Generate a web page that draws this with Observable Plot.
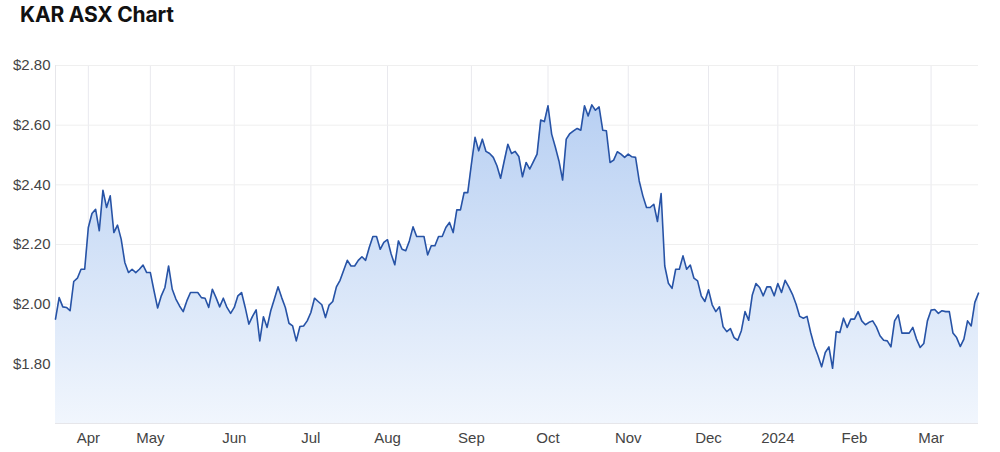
<!DOCTYPE html>
<html>
<head>
<meta charset="utf-8">
<script src="https://cdn.jsdelivr.net/npm/d3@7"></script>
<script src="https://cdn.jsdelivr.net/npm/@observablehq/plot@0.6"></script>
<style>
  html, body { margin: 0; padding: 0; background: #fff; }
  body { width: 1000px; height: 452px; overflow: hidden; position: relative; }
  #title { position: absolute; left: 20px; top: 2px; font: 700 21px Inter, "Liberation Sans", Arial, sans-serif; color: #111; letter-spacing: -0.2px; }
  #chart { position: absolute; left: 0; top: 40px; }
</style>
</head>
<body>
<div id="title">KAR ASX Chart</div>
<div id="chart"></div>
<script>
// Daily closing prices (A$), one per ASX trading day, 21 Mar 2023 – 20 Mar 2024
const closes = [
  1.950, 2.022, 1.991, 1.989, 1.978, 2.076, 2.087, 2.117, 2.117, 2.257,
  2.304, 2.318, 2.246, 2.382, 2.324, 2.363, 2.240, 2.265, 2.218, 2.140,
  2.106, 2.117, 2.106, 2.117, 2.131, 2.106, 2.106, 2.045, 1.987, 2.028,
  2.056, 2.128, 2.050, 2.017, 1.994, 1.975, 2.011, 2.039, 2.039, 2.039,
  2.022, 2.020, 1.989, 2.050, 2.022, 1.991, 2.020, 1.989, 1.969, 1.989,
  2.028, 2.039, 1.989, 1.933, 1.959, 1.981, 1.877, 1.958, 1.922, 1.978,
  2.017, 2.058, 2.022, 1.989, 1.936, 1.927, 1.877, 1.925, 1.927, 1.944,
  1.972, 2.020, 2.009, 1.998, 1.955, 1.997, 2.009, 2.058, 2.080, 2.114,
  2.147, 2.128, 2.128, 2.147, 2.159, 2.147, 2.190, 2.227, 2.227, 2.184,
  2.207, 2.216, 2.168, 2.132, 2.212, 2.184, 2.179, 2.212, 2.259, 2.227,
  2.227, 2.227, 2.165, 2.196, 2.196, 2.227, 2.227, 2.257, 2.274, 2.240,
  2.316, 2.316, 2.374, 2.374, 2.469, 2.559, 2.514, 2.553, 2.512, 2.505,
  2.492, 2.464, 2.422, 2.480, 2.536, 2.505, 2.512, 2.495, 2.427, 2.475,
  2.453, 2.478, 2.503, 2.617, 2.612, 2.665, 2.570, 2.527, 2.480, 2.416,
  2.553, 2.572, 2.581, 2.589, 2.583, 2.665, 2.631, 2.668, 2.650, 2.661,
  2.583, 2.581, 2.475, 2.483, 2.511, 2.503, 2.492, 2.503, 2.494, 2.492,
  2.413, 2.363, 2.324, 2.324, 2.335, 2.277, 2.371, 2.128, 2.070, 2.053,
  2.117, 2.117, 2.162, 2.117, 2.131, 2.087, 2.078, 2.028, 2.009, 2.048,
  1.998, 1.975, 1.991, 1.924, 1.908, 1.918, 1.888, 1.879, 1.911, 1.975,
  1.946, 2.031, 2.069, 2.056, 2.028, 2.058, 2.058, 2.028, 2.069, 2.039,
  2.080, 2.058, 2.033, 2.000, 1.959, 1.953, 1.959, 1.905, 1.860, 1.827,
  1.790, 1.838, 1.857, 1.785, 1.908, 1.905, 1.953, 1.922, 1.950, 1.950,
  1.975, 1.944, 1.931, 1.939, 1.944, 1.924, 1.894, 1.879, 1.877, 1.857,
  1.944, 1.964, 1.903, 1.903, 1.903, 1.922, 1.883, 1.855, 1.868, 1.944,
  1.980, 1.982, 1.969, 1.978, 1.975, 1.975, 1.903, 1.888, 1.858, 1.883,
  1.944, 1.927, 2.006, 2.037
];

// Trading-day index of the first session of each month, and its label
const monthTickIndex = [9, 26, 49, 70, 91, 114, 135, 157, 179, 198, 219, 240];
const monthLabels = ["Apr", "May", "Jun", "Jul", "Aug", "Sep", "Oct", "Nov", "Dec", "2024", "Feb", "Mar"];

const priceTicks = [1.8, 2.0, 2.2, 2.4, 2.6, 2.8];
const priceDomain = [1.6, 2.8];

const rows = closes.map((v, i) => ({ i, v }));

const plot = Plot.plot({
  width: 1000,
  height: 412,
  marginTop: 25,
  marginBottom: 29,
  marginLeft: 55,
  marginRight: 22,
  style: { fontFamily: '"Liberation Sans", Arial, sans-serif', fontSize: "15px", color: "#444", background: "transparent", overflow: "visible" },
  x: { domain: [0, closes.length - 1] },
  y: { domain: priceDomain },
  marks: [
    Plot.gridX(monthTickIndex, { stroke: "#e9e9ee", strokeOpacity: 1 }),
    Plot.gridY(priceTicks, { stroke: "#efefef", strokeOpacity: 1 }),
    Plot.ruleX([0], { stroke: "#e6e6ea" }),
    Plot.ruleY([priceDomain[0]], { stroke: "#e6e6ea" }),
    Plot.areaY(rows, { x: "i", y1: priceDomain[0], y2: "v", fill: "url(#karGrad)" }),
    Plot.lineY(rows, { x: "i", y: "v", stroke: "#2753a6", strokeWidth: 1.6 }),
    Plot.axisX(monthTickIndex, {
      tickSize: 0, tickPadding: 9, label: null, fontSize: 15,
      tickFormat: d => monthLabels[monthTickIndex.indexOf(d)]
    }),
    Plot.axisY(priceTicks, {
      tickSize: 0, tickPadding: 5, label: null, fontSize: 15,
      tickFormat: d => "$" + d.toFixed(2)
    })
  ]
});

const grad = d3.select(plot).insert("defs", ":first-child")
  .append("linearGradient")
  .attr("id", "karGrad")
  .attr("gradientUnits", "userSpaceOnUse")
  .attr("x1", 0).attr("x2", 0).attr("y1", 25).attr("y2", 383);
grad.append("stop").attr("offset", "0%").attr("stop-color", "#b1cbf1");
grad.append("stop").attr("offset", "100%").attr("stop-color", "#f1f6fd");

document.getElementById("chart").appendChild(plot);
</script>
</body>
</html>
